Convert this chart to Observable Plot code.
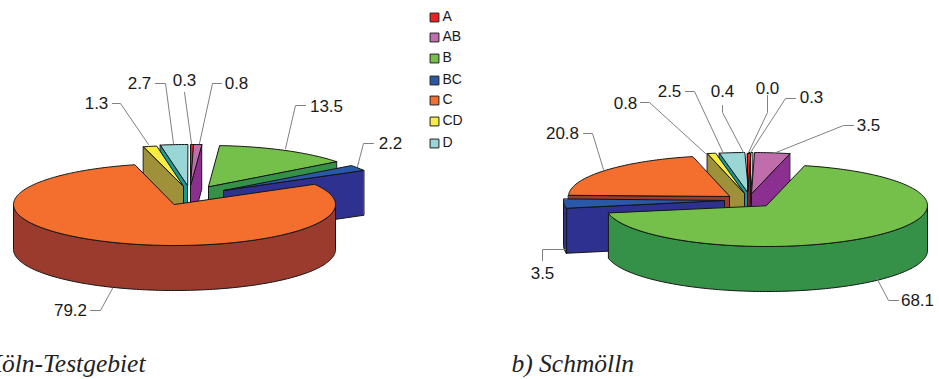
<!DOCTYPE html>
<html>
<head>
<meta charset="utf-8">
<script src="https://cdn.jsdelivr.net/npm/d3@7"></script>
<script src="https://cdn.jsdelivr.net/npm/@observablehq/plot@0.6"></script>
<style>html,body{margin:0;padding:0;background:#fff}svg{display:block;background:#fff}</style>
</head>
<body>
<div id="chart"></div>
<script>
// ---- data ----
const legendCategories = ["A", "AB", "B", "BC", "C", "CD", "D"];
const koelnCategories = ["A", "AB", "B", "BC", "C", "CD", "D"];
const koelnValues = [0.3, 0.8, 13.5, 2.2, 79.2, 1.3, 2.7];
const schmoellnCategories = ["A", "AB", "B", "BC", "C", "CD", "D", "u1", "u2"];
const schmoellnValues = [0.3, 3.5, 68.1, 3.5, 20.8, 0.8, 2.5, 0.4, 0.0];
const captions = ["a) Köln-Testgebiet", "b) Schmölln"];

// ---- styles ----
const topColors = {A:"#ed2024",AB:"#c06eab",B:"#75c04b",BC:"#2a58a8",C:"#f46f2e",CD:"#f9ec42",D:"#9ad6d6",u1:"#cdd6ec",u2:"#8a8a8a"};
const wallColors = {A:"#9b1c20",AB:"#8b3090",B:"#359147",BC:"#2e3190",C:"#9b3b2e",CD:"#9f9139",D:"#169a9a",u1:"#2f6f78",u2:"#333333"};

// ---- layout (exploded slice apex positions, paint order, label placement) ----
const RX = 161, RY = 41, DEPTH = 45;
const koelnApex = {A:[190,185],AB:[190,185],B:[208,186],BC:[223,190],C:[174,204],CD:[183,186],D:[187,185]};
const koelnOrder = ["D","CD","A","AB","B","BC","C"];
const schmoellnApex = {A:[747,194],AB:[751,193],B:[766,205],BC:[724,200],C:[729,196],CD:[744,193],D:[748,193],u1:[752,193],u2:[747,194]};
const schmoellnOrder = ["u2","u1","D","CD","A","AB","C","BC","B"];
// [category, text x, text y, leader polyline]
const koelnLabels = [
  ["CD",96,103,[[112,103],[120,103],[148,144]]],
  ["D",139,83,[[155,83],[165,83],[173,143]]],
  ["A",184,80,[[184,92],[191,143]]],
  ["AB",236,83,[[221,83],[212,83],[199,143]]],
  ["B",326,106,[[305,105],[295,105],[285,148]]],
  ["BC",390,143,[[373,143],[363,143],[357,166]]],
  ["C",70,310,[[90,310],[100,310],[112,288]]]
];
const schmoellnLabels = [
  ["C",562,133,[[583,133],[592,133],[603,169]]],
  ["CD",625,103,[[640,102],[649,102],[705,153]]],
  ["D",669,91,[[685,91],[694,91],[723,153]]],
  ["u1",722,91,[[722,105],[722,112],[743,152]]],
  ["u2",767,88,[[767,95],[767,112],[748,152]]],
  ["A",811,97,[[795,98],[785,98],[750,152]]],
  ["AB",868,125,[[853,125],[843,125],[773,153]]],
  ["B",917,300,[[898,300],[888,300],[876,277]]],
  ["BC",542,273,[[542,260],[542,249],[565,249]]]
];

// ---- geometry from the values ----
function slicePolys(cats, vals, apex, order) {
  const total = d3.sum(vals);
  let cum = 0;
  const info = {};
  cats.forEach((c, i) => { info[c] = {t0: cum/total*2*Math.PI, t1: (cum+vals[i])/total*2*Math.PI}; cum += vals[i]; });
  const polys = [];
  for (const c of order) {
    const {t0, t1} = info[c], [ax, ay] = apex[c];
    const P = (t, z=0) => ({x: ax + RX*Math.sin(t), y: ay - RY*Math.cos(t) + z});
    const A = (z=0) => ({x: ax, y: ay + z});
    const arc = (a, b, z=0) => { const n = Math.max(1, Math.ceil(Math.abs(b-a)/0.02)); return d3.range(n+1).map(i => P(a+(b-a)*i/n, z)); };
    if (Math.sin(t0) < 0) polys.push({pts:[P(t0),A(),A(DEPTH),P(t0,DEPTH)], fill:wallColors[c]});
    if (Math.sin(t1) > 0) polys.push({pts:[P(t1),A(),A(DEPTH),P(t1,DEPTH)], fill:wallColors[c]});
    const f0 = Math.max(t0, Math.PI/2), f1 = Math.min(t1, 3*Math.PI/2);
    if (f1 > f0) polys.push({pts:[...arc(f0,f1), ...arc(f1,f0,DEPTH)], fill:wallColors[c]});
    polys.push({pts:[A(), ...arc(t0,t1)], fill:topColors[c]});
  }
  return polys;
}
function labelMarks(cats, vals, labels) {
  const fmt = d3.format(".1f");
  const marks = labels.map(l => Plot.line(l[3].map(([x,y]) => ({x,y})), {x:"x", y:"y", stroke:"#808080", strokeWidth:1}));
  marks.push(Plot.text(labels, {
    x: d => d[1], y: d => d[2], text: d => fmt(vals[cats.indexOf(d[0])]),
    fontFamily:"Liberation Sans", fontSize:17, fill:"#1a1a1a", textAnchor:"middle", lineAnchor:"middle"
  }));
  return marks;
}
const polyMarks = polys => polys.map(p => Plot.line(p.pts, {x:"x", y:"y", fill:p.fill, stroke:"#151515", strokeWidth:1, curve:"linear-closed"}));

const legendY = d3.scaleOrdinal(legendCategories, [17,37,58,80,100,121,143]);

const chart = Plot.plot({
  width: 939, height: 379, margin: 0,
  style: {background:"#fff"},
  x: {domain:[0,939], range:[0,939], axis:null},
  y: {domain:[0,379], range:[0,379], axis:null},
  marks: [
    ...polyMarks(slicePolys(koelnCategories, koelnValues, koelnApex, koelnOrder)),
    ...polyMarks(slicePolys(schmoellnCategories, schmoellnValues, schmoellnApex, schmoellnOrder)),
    ...labelMarks(koelnCategories, koelnValues, koelnLabels),
    ...labelMarks(schmoellnCategories, schmoellnValues, schmoellnLabels),
    Plot.dot(legendCategories, {x:()=>434, y:d=>legendY(d), symbol:"square", r:5, fill:d=>topColors[d], stroke:"#222", strokeWidth:1}),
    Plot.text(legendCategories, {x:()=>442, y:d=>legendY(d)-1, text:d=>d, textAnchor:"start", lineAnchor:"middle", fontFamily:"Liberation Sans", fontSize:14, fill:"#1a1a1a"}),
    Plot.text([captions[0]], {x:()=>145, y:()=>371, text:d=>d, textAnchor:"end", lineAnchor:"bottom", fontFamily:"Liberation Serif", fontStyle:"italic", fontSize:25.5, fill:"#222"}),
    Plot.text([captions[1]], {x:()=>511, y:()=>371, text:d=>d, textAnchor:"start", lineAnchor:"bottom", fontFamily:"Liberation Serif", fontStyle:"italic", fontSize:25.5, fill:"#222"})
  ]
});
document.getElementById("chart").append(chart);
</script>
</body>
</html>
